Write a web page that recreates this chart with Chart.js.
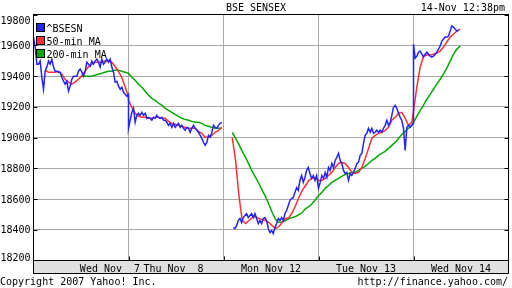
<!DOCTYPE html>
<html>
<head>
<meta charset="utf-8">
<script src="https://cdn.jsdelivr.net/npm/chart.js@4/dist/chart.umd.min.js"></script>
<style>
  html, body { margin: 0; padding: 0; background: #fff; }
</style>
</head>
<body>
<canvas id="grafica" width="512" height="288"></canvas>
<script>
// Dias de sesion (etiquetas del eje X)
const days = ['Wed Nov  7', 'Thu Nov  8', 'Mon Nov 12', 'Tue Nov 13', 'Wed Nov 14'];
const yTickValues = [18200, 18400, 18600, 18800, 19000, 19200, 19400, 19600, 19800];

// ^BSESN, una lista por dia, una muestra cada 1/57 de sesion
const sensex = [
  [19653, 19588, 19477, 19477, 19497, 19392, 19314, 19431, 19458, 19497, 19477, 19510, 19458, 19431, 19431, 19425, 19425, 19392, 19366, 19347, 19366, 19301, 19334, 19379, 19399, 19399, 19399, 19431, 19445, 19425, 19399, 19431, 19490, 19477, 19464, 19497, 19477, 19497, 19510, 19490, 19458, 19510, 19477, 19490, 19510, 19490, 19510, 19458, 19425, 19360, 19366, 19334, 19314, 19327, 19294, 19281, 19268, 19281],
  [19060, 19112, 19164, 19190, 19099, 19144, 19158, 19144, 19164, 19144, 19158, 19125, 19131, 19125, 19112, 19131, 19125, 19144, 19131, 19125, 19131, 19112, 19112, 19099, 19079, 19092, 19066, 19092, 19066, 19079, 19092, 19066, 19079, 19060, 19047, 19066, 19060, 19034, 19060, 19079, 19060, 19047, 19034, 19014, 18994, 18968, 18949, 18968, 19014, 19001, 19034, 19079, 19066, 19060, 19079, 19092, 19099],
  [18414, 18408, 18427, 18460, 18473, 18447, 18479, 18492, 18505, 18479, 18492, 18505, 18479, 18505, 18473, 18440, 18460, 18440, 18473, 18479, 18460, 18408, 18382, 18395, 18375, 18414, 18440, 18473, 18460, 18479, 18460, 18505, 18525, 18558, 18590, 18603, 18610, 18643, 18675, 18656, 18721, 18753, 18708, 18740, 18786, 18805, 18766, 18734, 18753, 18721, 18753],
  [18669, 18708, 18753, 18734, 18773, 18740, 18805, 18786, 18831, 18805, 18851, 18871, 18897, 18851, 18831, 18786, 18766, 18773, 18721, 18766, 18753, 18773, 18799, 18831, 18838, 18884, 18897, 18962, 19014, 19027, 19060, 19034, 19060, 19027, 19034, 19047, 19034, 19047, 19034, 19060, 19079, 19112, 19079, 19099, 19144, 19197, 19210, 19190, 19158, 19131, 19112, 19060, 18916, 19066, 19079, 19066, 19079, 19092],
  [19608, 19516, 19529, 19555, 19562, 19542, 19523, 19542, 19555, 19542, 19529, 19523, 19529, 19542, 19555, 19575, 19595, 19627, 19640, 19653, 19653, 19660, 19692, 19725, 19718, 19705, 19692, 19699]
];
const sensexStart = [0, 1, 2.103, 3, 4];

// Medias moviles, una muestra cada 2/57 de sesion
const ma50 = [
  [19438, 19425, 19425, 19425, 19431, 19412, 19379, 19360, 19347, 19360, 19379, 19399, 19431, 19458, 19477, 19490, 19490, 19490, 19497, 19497, 19490, 19464, 19431, 19392, 19334, 19268],
  [19242, 19197, 19158, 19138, 19131, 19131, 19125, 19125, 19131, 19131, 19125, 19125, 19105, 19092, 19086, 19079, 19073, 19066, 19060, 19060, 19060, 19040, 19027, 19001, 19001, 19014, 19034, 19047, 19066],
  [19001, 18851, 18623, 18460, 18440, 18460, 18479, 18486, 18473, 18466, 18460, 18447, 18427, 18408, 18421, 18447, 18473, 18479, 18512, 18558, 18610, 18656, 18688, 18721, 18734, 18740],
  [18721, 18721, 18734, 18753, 18773, 18805, 18831, 18838, 18831, 18805, 18773, 18766, 18773, 18805, 18864, 18929, 18994, 19014, 19027, 19034, 19047, 19066, 19112, 19131, 19158, 19164, 19125, 19079, 19099],
  [19171, 19327, 19458, 19529, 19536, 19536, 19542, 19549, 19562, 19588, 19621, 19653, 19673, 19692, 19705]
];
const ma50Start = [0.121, 1, 2.092, 3, 4];

const ma200 = [
  [19399, 19399, 19399, 19399, 19405, 19412, 19418, 19425, 19431, 19431, 19438, 19438, 19431, 19425, 19418],
  [19418, 19392, 19373, 19347, 19327, 19301, 19275, 19255, 19242, 19223, 19210, 19190, 19177, 19164, 19151, 19138, 19125, 19118, 19112, 19105, 19099, 19099, 19092, 19079, 19073, 19066, 19060, 19060, 19060],
  [19034, 18994, 18955, 18910, 18871, 18825, 18779, 18740, 18701, 18656, 18616, 18564, 18512, 18466, 18447, 18453, 18460, 18473, 18479, 18486, 18499, 18512, 18538, 18551, 18571, 18597],
  [18623, 18643, 18669, 18688, 18708, 18721, 18734, 18747, 18760, 18766, 18773, 18773, 18786, 18799, 18812, 18831, 18851, 18864, 18884, 18897, 18910, 18929, 18949, 18968, 18994, 19021, 19040, 19060, 19079],
  [19099, 19138, 19177, 19210, 19249, 19281, 19314, 19347, 19379, 19412, 19451, 19497, 19542, 19575, 19595]
];
const ma200Start = [0.507, 1, 2.092, 3, 4];

// Convierte las listas por dia en puntos {x, y}; corta la linea si hay hueco entre sesiones
function buildPoints(perDay, starts, step) {
  const pts = [];
  let lastX = null;
  perDay.forEach((vals, d) => {
    if (lastX !== null && starts[d] - lastX > step * 2.5) {
      pts.push({ x: (lastX + starts[d]) / 2, y: null });
    }
    vals.forEach((v, i) => pts.push({ x: starts[d] + i * step, y: v }));
    lastX = starts[d] + (vals.length - 1) * step;
  });
  return pts;
}

const FONT = '10px "DejaVu Sans Mono"';

// Dibuja marco, leyenda, etiquetas y textos al estilo de Yahoo
const decor = {
  id: 'decor',
  afterDatasetsDraw(chart) {
    const { ctx, chartArea: a, scales } = chart;
    ctx.save();
    ctx.font = FONT;
    ctx.fillStyle = '#000';
    ctx.strokeStyle = '#000';
    ctx.lineWidth = 1;

    // marco del area
    ctx.strokeRect(a.left, a.top, a.right - a.left, a.bottom - a.top);

    // pequenas marcas negras en los bordes
    ctx.beginPath();
    scales.y.ticks.forEach(t => {
      const py = Math.round(scales.y.getPixelForValue(t.value)) + 0.5;
      ctx.moveTo(a.left, py); ctx.lineTo(a.left + 4, py);
      ctx.moveTo(a.right - 4, py); ctx.lineTo(a.right, py);
    });
    for (let d = 1; d < days.length; d++) {
      const px = Math.round(scales.x.getPixelForValue(d)) + 0.5;
      ctx.moveTo(px, a.bottom - 4); ctx.lineTo(px, a.bottom);
    }
    ctx.stroke();

    // banda gris del eje X
    ctx.fillStyle = '#e0e0e0';
    ctx.fillRect(a.left, a.bottom, a.right - a.left, 13);
    ctx.strokeRect(a.left, a.bottom, a.right - a.left, 13);
    ctx.fillStyle = '#000';
    ctx.textAlign = 'center';
    const labelAt = [0.805, 1.474, 2.5, 3.5, 4.5];
    days.forEach((lbl, d) => {
      ctx.fillText(lbl, scales.x.getPixelForValue(labelAt[d]), a.bottom + 11);
    });

    // etiquetas del eje Y
    ctx.textAlign = 'right';
    scales.y.ticks.forEach(t => {
      let py = scales.y.getPixelForValue(t.value);
      py = Math.min(Math.max(py, a.top + 6), a.bottom - 3.5);
      ctx.fillText(String(t.value), 30.5, py + 3.6);
    });

    // leyenda
    ctx.textAlign = 'left';
    chart.data.datasets.forEach((ds, i) => {
      const top = 24 + i * 13;
      ctx.fillStyle = ds.borderColor;
      ctx.fillRect(37, top, 7, 7);
      ctx.strokeRect(36.5, top - 0.5, 8, 8);
      ctx.fillStyle = '#000';
      ctx.fillText(ds.label, 46.5, top + 8);
    });

    // titulo, fecha y pie
    ctx.textAlign = 'center';
    ctx.fillText('BSE SENSEX', 256, 11);
    ctx.textAlign = 'right';
    ctx.fillText('14-Nov 12:38pm', 505, 11);
    ctx.fillText('http://finance.yahoo.com/', 508, 285);
    ctx.textAlign = 'left';
    ctx.fillText('Copyright 2007 Yahoo! Inc.', 0, 285);
    ctx.restore();
  }
};

const lineStyle = { pointRadius: 0, borderWidth: 1.5, tension: 0, spanGaps: false, fill: false };

new Chart(document.getElementById('grafica'), {
  type: 'line',
  data: {
    datasets: [
      { label: '^BSESN', data: buildPoints(sensex, sensexStart, 1 / 57), borderColor: '#2424ff', ...lineStyle },
      { label: '50-min MA', data: buildPoints(ma50, ma50Start, 2 / 57), borderColor: '#ff3030', ...lineStyle },
      { label: '200-min MA', data: buildPoints(ma200, ma200Start, 2 / 57), borderColor: '#00aa00', ...lineStyle }
    ]
  },
  options: {
    responsive: false,
    animation: false,
    events: [],
    layout: { padding: { top: 14.5, bottom: 27.5, left: 0, right: 3.5 } },
    plugins: { legend: { display: false }, tooltip: { enabled: false } },
    scales: {
      x: {
        type: 'linear', min: 0, max: days.length,
        ticks: { display: false, stepSize: 1 },
        grid: { color: '#a8a8a8', lineWidth: 1, drawTicks: false },
        border: { display: false },
        afterFit: s => { s.height = 0; }
      },
      y: {
        min: 18200, max: 19800,
        afterBuildTicks: s => { s.ticks = yTickValues.map(v => ({ value: v })); },
        ticks: { display: false },
        grid: { color: '#a8a8a8', lineWidth: 1, drawTicks: false },
        border: { display: false },
        afterFit: s => { s.width = 33.5; }
      }
    }
  },
  plugins: [decor]
});
</script>
</body>
</html>
